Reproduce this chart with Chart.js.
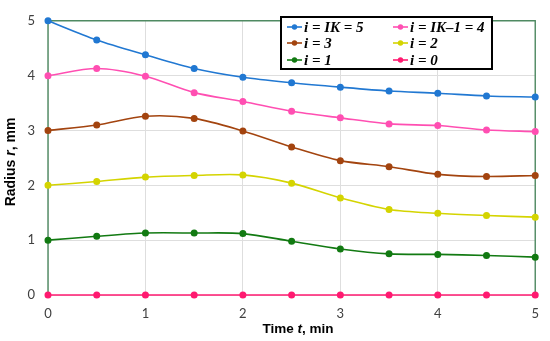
<!DOCTYPE html>
<html><head><meta charset="utf-8">
<script src="https://cdn.jsdelivr.net/npm/chart.js@4"></script>
<style>html,body{margin:0;padding:0;background:#fff}#wrap{width:550px;height:341px}</style>
</head><body><div id="wrap"><canvas id="c" width="550" height="341"></canvas></div>
<script>
const times = [0,0.5,1,1.5,2,2.5,3,3.5,4,4.5,5];
const r5 = [5,4.65,4.38,4.13,3.97,3.87,3.79,3.72,3.68,3.63,3.61];
const r4 = [4,4.13,3.99,3.69,3.53,3.35,3.23,3.12,3.09,3.01,2.98];
const r3 = [3,3.10,3.26,3.22,2.99,2.70,2.45,2.34,2.20,2.16,2.18];
const r2 = [2,2.07,2.15,2.18,2.19,2.04,1.77,1.56,1.49,1.45,1.42];
const r1 = [1,1.07,1.13,1.13,1.12,0.98,0.84,0.75,0.74,0.72,0.69];
const r0 = [0,0,0,0,0,0,0,0,0,0,0];
const seriesNames = ['i = IK = 5','i = IK\u20131 = 4','i = 3','i = 2','i = 1','i = 0'];
const seriesValues = [r5,r4,r3,r2,r1,r0];
const colors = ['#2178d2','#ff4fb2','#a3440f','#d4d400','#127a12','#ff1a70'];
const xTicks = [0,1,2,3,4,5];
const yTicks = [0,1,2,3,4,5];

const datasets = seriesValues.map((vals,k)=>({
  label: seriesNames[k],
  data: vals.map((v,i)=>({x:times[i],y:v})),
  borderColor: colors[k], backgroundColor: colors[k],
  borderWidth: 1.6, pointRadius: 2.7, pointHoverRadius: 2.7,
  tension: 0.3, clip: false
}));

const deco = {
  id:'deco',
  beforeDatasetsDraw(chart){
    const {ctx, chartArea:a} = chart;
    ctx.save();
    ctx.strokeStyle = '#4f8a62'; ctx.lineWidth = 1.4;
    ctx.beginPath();
    ctx.moveTo(a.left, a.bottom); ctx.lineTo(a.left, a.top); ctx.lineTo(a.right, a.top); ctx.lineTo(a.right, a.bottom);
    ctx.stroke();
    ctx.restore();
  },
  afterDraw(chart){
    const {ctx} = chart;
    ctx.save();
    function mixed(parts, cx, cy){
      let w = 0;
      parts.forEach(p=>{ctx.font=p[1]; w+=ctx.measureText(p[0]).width;});
      let x = cx - w/2;
      ctx.textBaseline='middle'; ctx.textAlign='left'; ctx.fillStyle='#000';
      parts.forEach(p=>{ctx.font=p[1]; ctx.fillText(p[0], x, cy); x+=ctx.measureText(p[0]).width;});
    }
    const bx1 = 'bold 13.5px "Liberation Sans", Arial, sans-serif';
    const bix1 = 'italic bold 13.5px "Liberation Sans", Arial, sans-serif';
    mixed([['Time ',bx1],['t',bix1],[', min',bx1]], 298, 329);
    const b = 'bold 14px "Liberation Sans", Arial, sans-serif';
    const bi = 'italic bold 14px "Liberation Sans", Arial, sans-serif';
    ctx.save();
    ctx.translate(11, 162); ctx.rotate(-Math.PI/2);
    mixed([['Radius ',b],['r',bi],[', mm',b]], 0, 0);
    ctx.restore();
    const bx=281, by=17, bw=211, bh=52;
    ctx.fillStyle='#fff'; ctx.fillRect(bx,by,bw,bh);
    ctx.strokeStyle='#000'; ctx.lineWidth=2; ctx.strokeRect(bx,by,bw,bh);
    const cols=[287,393], rows=[27,43,60];
    ctx.font='italic bold 15px "Liberation Serif", "Times New Roman", serif';
    ctx.textBaseline='middle'; ctx.textAlign='left';
    chart.data.datasets.forEach((ds,k)=>{
      const x = cols[k%2], y = rows[Math.floor(k/2)];
      ctx.strokeStyle=ds.borderColor; ctx.lineWidth=1.6;
      ctx.beginPath(); ctx.moveTo(x,y); ctx.lineTo(x+15,y); ctx.stroke();
      ctx.fillStyle=ds.borderColor; ctx.beginPath(); ctx.arc(x+7.5,y,2.7,0,Math.PI*2); ctx.fill();
      ctx.fillStyle='#000'; ctx.fillText(ds.label, x+17, y+1);
    });
    ctx.restore();
  }
};

new Chart(document.getElementById('c'), {
  type:'line',
  data:{datasets},
  options:{
    responsive:false, animation:false, devicePixelRatio:1,
    layout:{padding:{left:0,right:10,top:13,bottom:0}, autoPadding:false},
    plugins:{legend:{display:false}, tooltip:{enabled:false}},
    scales:{
      x:{type:'linear', min:0, max:5,
        afterBuildTicks:s=>{s.ticks=xTicks.map(v=>({value:v}));},
        afterFit:s=>{s.height=46;},
        grid:{color:'#dedede', lineWidth:1, drawTicks:false},
        border:{display:false},
        ticks:{padding:11, color:'#404040', font:{size:13, family:'Lato, "Open Sans", sans-serif'}}},
      y:{type:'linear', min:0, max:5,
        afterBuildTicks:s=>{s.ticks=yTicks.map(v=>({value:v}));},
        afterFit:s=>{s.width=48;},
        grid:{color:'#dedede', lineWidth:1, drawTicks:false},
        border:{display:false},
        ticks:{padding:13, color:'#404040', font:{size:13, family:'Lato, "Open Sans", sans-serif'}}}
    }
  },
  plugins:[deco]
});
</script></body></html>
